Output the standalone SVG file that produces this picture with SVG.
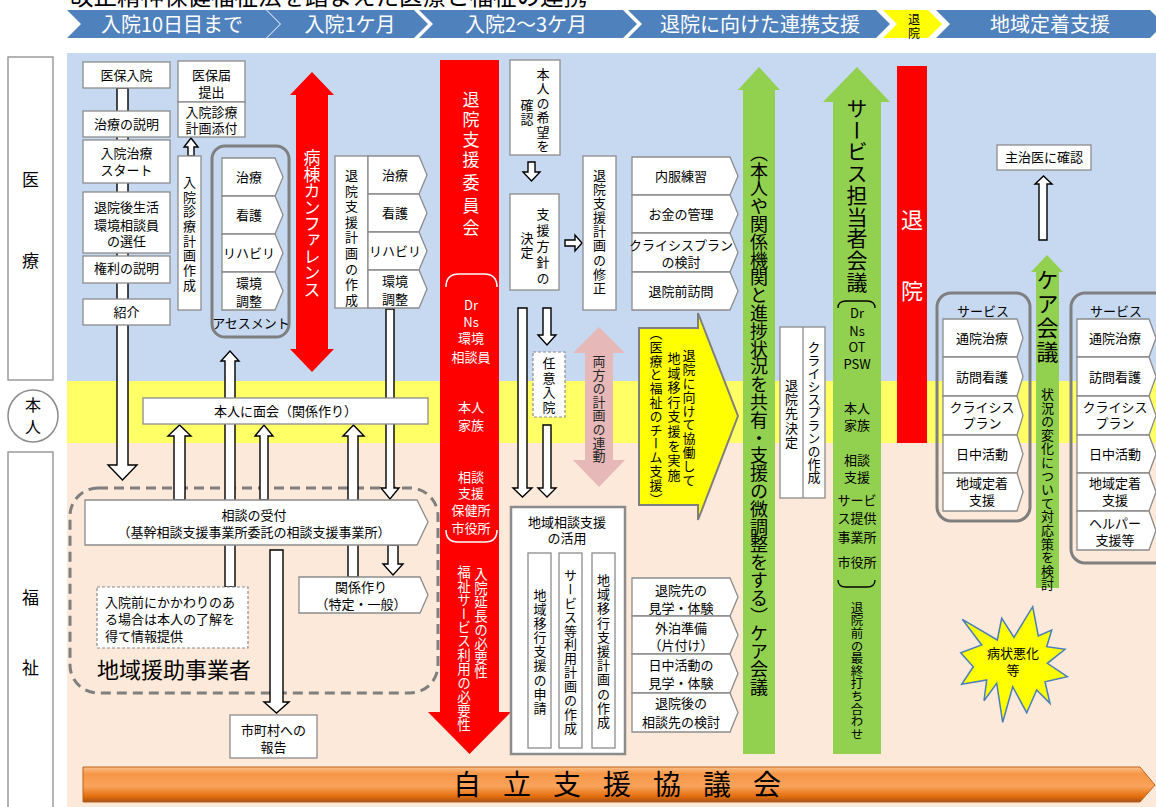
<svg xmlns="http://www.w3.org/2000/svg" width="1156" height="807" viewBox="0 0 1156 807">
<defs>
<linearGradient id="orange" x1="0" y1="0" x2="0" y2="1">
<stop offset="0" stop-color="#FBC08A"/>
<stop offset="0.2" stop-color="#F79646"/>
<stop offset="0.55" stop-color="#F9A35C"/>
<stop offset="0.85" stop-color="#E36C0A"/>
<stop offset="1" stop-color="#A0521C"/>
</linearGradient>
</defs>
<style>
text{font-family:"Noto Sans CJK JP","Noto Sans",sans-serif;fill:#000}
.c{text-anchor:middle;font-size:13px}
.v{writing-mode:vertical-rl;font-size:13px}
.box{fill:#fff;stroke:#8c8c8c;stroke-width:1.3}
.ha{fill:#fff;stroke:#000;stroke-width:1.4}
.hdr{fill:#4F81BD}
.hdrt{fill:#fff;font-size:20px;text-anchor:middle}
.wt{fill:#fff}
.cont{fill:none;stroke:#7f7f7f;stroke-width:3}
</style>

<g id="bands">
<rect x="67" y="53" width="1089" height="328" fill="#C6D9F1"/>
<rect x="67" y="381" width="1089" height="62" fill="#FFFF66"/>
<rect x="67" y="443" width="1089" height="364" fill="#FDE9D9"/>
</g>

<text x="70" y="5" font-size="23.5">改正精神保健福祉法を踏まえた医療と福祉の連携</text>

<g id="header">
<path class="hdr" d="M67 10H266L280 24L266 38H67L81 24Z"/>
<text class="hdrt" x="172" y="31.5">入院10日目まで</text>
<path class="hdr" d="M267 10H414L428 24L414 38H267L281 24Z"/>
<text class="hdrt" x="350" y="31.5">入院1ケ月</text>
<path class="hdr" d="M419 10H623L637 24L623 38H419L433 24Z"/>
<text class="hdrt" x="526" y="31.5">入院2～3ケ月</text>
<path class="hdr" d="M628 10H876L890 24L876 38H628L642 24Z"/>
<text class="hdrt" x="760" y="31.5">退院に向けた連携支援</text>
<path fill="#FFFF00" d="M883 10H928L942 24L928 38H883L897 24Z"/>
<text font-size="12" text-anchor="middle" x="914" y="23.5"><tspan x="914" y="23.5">退</tspan><tspan x="914" y="38">院</tspan></text>
<path class="hdr" d="M936 10H1150L1164 24L1150 38H936L950 24Z"/>
<text class="hdrt" x="1050" y="31.5">地域定着支援</text>
</g>

<g id="lane-iryo">
<rect x="8" y="57" width="45" height="323" class="box"/>
<text x="30.5" y="186" font-size="17" text-anchor="middle">医</text>
<text x="30.5" y="267" font-size="17" text-anchor="middle">療</text>
</g>
<g id="lane-honnin">
<ellipse cx="33" cy="416" rx="25" ry="26" fill="#fff" stroke="#8c8c8c" stroke-width="1.5"/>
<text font-size="16" text-anchor="middle" x="33" y="411"><tspan x="33" y="411">本</tspan><tspan x="33" y="433">人</tspan></text>
</g>
<g id="lane-fukushi">
<rect x="8" y="452" width="45" height="365" class="box"/>
<text x="30.5" y="604" font-size="17" text-anchor="middle">福</text>
<text x="30.5" y="674" font-size="17" text-anchor="middle">祉</text>
</g>

<g id="n-enjo">
<rect x="70" y="488" width="368" height="205" rx="28" fill="none" stroke="#7f7f7f" stroke-width="3" stroke-dasharray="10 6"/>
<text x="97" y="678" font-size="22">地域援助事業者</text>
</g>

<g id="connectors">
<path class="ha" d="M117 88H128V465H137L122.5 480L108 465H117Z"/>
<path class="ha" d="M188 156V147H184L191 138L198 147H194V156Z"/>
<path class="ha" d="M225 587V361H221L230 351L239 361H235V587Z"/>
<path class="ha" d="M386 309H394V488H399L390 499L381 488H386Z"/>
<path class="ha" d="M174 500V436H168L179.5 425L191 436H185V500Z"/>
<path class="ha" d="M260 500V436H255L264 425L273 436H268V500Z"/>
<path class="ha" d="M348 577V436H343L353.5 425L364 436H358V577Z"/>
<path class="ha" d="M388 545H398V564H403L393 575L383 564H388Z"/>
<path class="ha" d="M270 550H283V702H289L276.5 713L264 702H270Z"/>
<path class="ha" d="M528 162H535V172H540L531.5 181L523 172H528Z"/>
<path class="ha" d="M565 240H575V235L582 243L575 251V246H565Z"/>
<path class="ha" d="M518 308H527V488H532L522.5 497L513 488H518Z"/>
<path class="ha" d="M543 308H551V335H556L547 345L538 335H543Z"/>
<path class="ha" d="M543 425H551V488H556L547 497L538 488H543Z"/>
<path class="ha" d="M1039 240V184H1035L1043.5 176L1052 184H1047V240Z"/>
</g>

<g id="n-hoho-nyuin"><rect class="box" x="83" y="62" width="87" height="26"/><text class="c" x="126.5" y="80">医保入院</text></g>
<g id="n-chiryo-setsumei"><rect class="box" x="83" y="111" width="87" height="26"/><text class="c" x="126.5" y="129">治療の説明</text></g>
<g id="n-nyuin-chiryo"><rect class="box" x="83" y="140" width="87" height="43"/><text class="c" x="126.5" y="158"><tspan x="126.5" y="158">入院治療</tspan><tspan x="126.5" y="175">スタート</tspan></text></g>
<g id="n-sodanin"><rect class="box" x="83" y="192" width="87" height="61"/><text class="c" x="126.5" y="212"><tspan x="126.5" y="212">退院後生活</tspan><tspan x="126.5" y="230">環境相談員</tspan><tspan x="126.5" y="246">の選任</tspan></text></g>
<g id="n-kenri"><rect class="box" x="83" y="256" width="87" height="27"/><text class="c" x="126.5" y="273">権利の説明</text></g>
<g id="n-shokai"><rect class="box" x="83" y="299" width="87" height="26"/><text class="c" x="126.5" y="317">紹介</text></g>

<g id="n-todoke">
<rect class="box" x="178" y="61" width="67" height="41"/>
<rect class="box" x="178" y="102" width="67" height="35"/>
<text class="c" x="211.5" y="80"><tspan x="211.5" y="80">医保届</tspan><tspan x="211.5" y="97">提出</tspan><tspan x="211.5" y="117">入院診療</tspan><tspan x="211.5" y="133">計画添付</tspan></text>
</g>
<g id="n-shinryo-sakusei"><rect class="box" x="178" y="156" width="23" height="154"/><text class="v" x="189.5" y="175.5" letter-spacing="1.7">入院診療計画作成</text></g>

<g id="n-assessment">
<rect class="cont" x="212" y="146" width="77" height="191" rx="13"/>
<path class="box" d="M222 158H275L283 177L275 196H222Z"/>
<path class="box" d="M222 196H275L283 215L275 234H222Z"/>
<path class="box" d="M222 234H275L283 253L275 272H222Z"/>
<path class="box" d="M222 272H275L283 291L275 310H222Z"/>
<text class="c" x="249" y="182"><tspan x="249" y="182">治療</tspan><tspan x="249" y="220">看護</tspan><tspan x="249" y="258">リハビリ</tspan><tspan x="249" y="288">環境</tspan><tspan x="249" y="306">調整</tspan><tspan x="251" y="328">アセスメント</tspan></text>
</g>

<g id="n-conference">
<path fill="#FF0000" d="M312 72L334 95H328V349H334L312 372L290 349H296V95H290Z"/>
<text class="v wt" x="312" y="149.5" style="font-size:17px" letter-spacing="-0.6">病棟カンファレンス</text>
</g>

<g id="n-shien-keikaku">
<rect class="box" x="335" y="156" width="33" height="152"/>
<text class="v" x="351.5" y="168.5" letter-spacing="2.6">退院支援計画の作成</text>
<path class="box" d="M368 156H419L427 175L419 194H368Z"/>
<path class="box" d="M368 194H419L427 213L419 232H368Z"/>
<path class="box" d="M368 232H419L427 251L419 270H368Z"/>
<path class="box" d="M368 270H419L427 289L419 308H368Z"/>
<text class="c" x="395" y="180"><tspan x="395" y="180">治療</tspan><tspan x="395" y="218">看護</tspan><tspan x="395" y="256">リハビリ</tspan><tspan x="395" y="286">環境</tspan><tspan x="395" y="304">調整</tspan></text>
</g>

<g id="n-menkai"><rect class="box" x="143" y="398" width="285" height="26"/><text class="c" x="285.5" y="415.5">本人に面会（関係作り）</text></g>
<g id="n-uketsuke"><path class="box" d="M85 500H417L428 522L417 545H85Z"/><text class="c" x="254" y="519.5"><tspan x="254" y="519.5">相談の受付</tspan><tspan x="254" y="537">（基幹相談支援事業所委託の相談支援事業所）</tspan></text></g>
<g id="n-kankei"><path class="box" d="M299 577H420L428 595L420 613H299Z"/><text class="c" x="361" y="591.5"><tspan x="361" y="591.5">関係作り</tspan><tspan x="361" y="608.5">（特定・一般）</tspan></text></g>
<g id="n-nyuinmae"><rect x="97" y="587" width="151" height="61" fill="#fff" stroke="#8c8c8c" stroke-width="1.2" stroke-dasharray="3 2"/>
<text x="105" y="606.5" font-size="13"><tspan x="105" y="606.5">入院前にかかわりのあ</tspan><tspan x="105" y="623.5">る場合は本人の了解を</tspan><tspan x="105" y="640.5">得て情報提供</tspan></text></g>
<g id="n-shichoson"><rect class="box" x="230" y="715" width="87" height="43"/><text class="c" x="273.5" y="734.5"><tspan x="273.5" y="734.5">市町村への</tspan><tspan x="273.5" y="751.5">報告</tspan></text></g>

<g id="n-iinkai">
<path fill="#FF0000" d="M440 60H499V712H511L469.5 754L428 712H440Z"/>
<text class="v wt" x="471" y="91.5" style="font-size:17px" letter-spacing="3">退院支援</text>
<text class="v wt" x="471" y="174.5" style="font-size:17px" letter-spacing="5.5">委員会</text>
<path d="M446 287Q446 274 459 274H484Q497 274 497 287" fill="none" stroke="#fff" stroke-width="1.5"/>
<path d="M446 530Q446 542 458 542H485Q497 542 497 530" fill="none" stroke="#fff" stroke-width="1.5"/>
<text class="c wt" x="471" y="309.5"><tspan x="471" y="309.5">Dr</tspan><tspan x="471" y="326.5">Ns</tspan><tspan x="471" y="342.5">環境</tspan><tspan x="471" y="361.5">相談員</tspan><tspan x="471" y="411.5">本人</tspan><tspan x="471" y="429.5">家族</tspan><tspan x="471" y="481.5">相談</tspan><tspan x="471" y="497.5">支援</tspan><tspan x="471" y="514.5">保健所</tspan><tspan x="471" y="532.5">市役所</tspan></text>
<text class="v wt" x="481" y="567" style="font-size:13.5px" letter-spacing="0.5">入院延長の必要性</text>
<text class="v wt" x="464" y="565" style="font-size:13.5px" letter-spacing="0.4">福祉サービス利用の必要性</text>
</g>

<g id="n-kibou"><rect class="box" x="510" y="60" width="50" height="95"/>
<text class="v" x="543" y="67.5" letter-spacing="1.4">本人の希望を</text><text class="v" x="527" y="98.5" letter-spacing="1.4">確認</text></g>
<g id="n-houshin"><rect class="box" x="510" y="194" width="49" height="96"/>
<text class="v" x="543" y="207.5" letter-spacing="3">支援方針の</text><text class="v" x="527" y="231.5" letter-spacing="1">決定</text></g>
<g id="n-shusei"><rect class="box" x="583" y="156" width="33" height="154"/>
<text class="v" x="599.5" y="168.5" letter-spacing="1.1">退院支援計画の修正</text></g>

<g id="n-prep">
<path class="box" d="M632 157H730L738 176L730 195H632Z"/>
<path class="box" d="M632 195H730L738 214L730 233H632Z"/>
<path class="box" d="M632 233H730L738 252.5L730 272H632Z"/>
<path class="box" d="M632 272H730L738 291L730 310H632Z"/>
<text class="c" x="681" y="180.5"><tspan x="681" y="180.5">内服練習</tspan><tspan x="681" y="218.5">お金の管理</tspan><tspan x="681" y="249.5">クライシスプラン</tspan><tspan x="681" y="266.5">の検討</tspan><tspan x="681" y="295.5">退院前訪問</tspan></text>
</g>

<g id="n-nini"><rect x="533" y="352" width="32" height="65" fill="#fff" stroke="#8c8c8c" stroke-width="1.2" stroke-dasharray="3 2"/>
<text class="v" x="549" y="356.5" letter-spacing="1.7">任意入院</text></g>

<g id="n-rendou">
<path fill="#E6B9B8" d="M599 327L625 353H613V460H625L599 487L573 460H585V353H573Z"/>
<text class="v" x="599" y="354.5" letter-spacing="0.6" style="fill:#262626">両方の計画の連動</text>
</g>

<g id="n-yellow">
<path fill="#FFFF00" stroke="#7f7f7f" stroke-width="2" d="M639 328H698V313L738 416L698 520V505H639Z"/>
<text class="v" x="689" y="348.5" letter-spacing="0.9">退院に向けて協働して</text>
<text class="v" x="674" y="351.5" letter-spacing="1.6">地域移行支援を実施</text>
<text class="v" x="656" y="326.5" letter-spacing="0.8">（医療と福祉のチーム支援）</text>
</g>

<g id="n-chiiki-sodan">
<rect x="511" y="507" width="114" height="247" fill="#fff" stroke="#8c8c8c" stroke-width="2.5"/>
<text class="c" x="567" y="526.5"><tspan x="567" y="526.5">地域相談支援</tspan><tspan x="567" y="542.5">の活用</tspan></text>
<rect class="box" x="528" y="553" width="23" height="195"/>
<rect class="box" x="559" y="553" width="23" height="195"/>
<rect class="box" x="592" y="553" width="23" height="195"/>
<text class="v" x="540" y="588.5" letter-spacing="1.1">地域移行支援の申請</text>
<text class="v" x="570.5" y="568.5" letter-spacing="0.9">サービス等利用計画の作成</text>
<text class="v" x="603.5" y="573.5" letter-spacing="1.2">地域移行支援計画の作成</text>
</g>

<g id="n-lower-prep">
<path class="box" d="M632 578H730L738 597L730 616H632Z"/>
<path class="box" d="M632 616H730L738 635L730 654H632Z"/>
<path class="box" d="M632 654H730L738 673.5L730 693H632Z"/>
<path class="box" d="M632 693H730L738 712.5L730 732H632Z"/>
<text class="c" x="681" y="594.5"><tspan x="681" y="594.5">退院先の</tspan><tspan x="681" y="612.5">見学・体験</tspan><tspan x="681" y="632.5">外泊準備</tspan><tspan x="681" y="649.5">（片付け）</tspan><tspan x="681" y="669.5">日中活動の</tspan><tspan x="681" y="687.5">見学・体験</tspan><tspan x="681" y="707.5">退院後の</tspan><tspan x="681" y="726.5">相談先の検討</tspan></text>
</g>

<g id="n-care1">
<path fill="#92D050" d="M759 67L780 90H775V754H743V90H738Z"/>
<text class="v" x="759" y="144" style="font-size:18px" letter-spacing="-0.2">（本人や関係機関と進捗状況を共有・支援の微調整をする）ケア会議</text>
</g>

<g id="n-kettei">
<rect class="box" x="780" y="327" width="45" height="171"/>
<line x1="803" y1="327" x2="803" y2="498" stroke="#8c8c8c" stroke-width="1.3"/>
<text class="v" x="791.5" y="378.5" letter-spacing="1.2">退院先決定</text>
<text class="v" x="814" y="340.5">クライシスプランの作成</text>
</g>

<g id="n-service-meeting">
<path fill="#92D050" d="M857 67L890 102H881V754H833V102H823Z"/>
<text class="v" x="857" y="97.5" style="font-size:21px" letter-spacing="0.75">サービス担当者会議</text>
<path d="M838 308Q838 301 846 301H867Q875 301 875 308" fill="none" stroke="#000" stroke-width="1.3"/>
<text class="c" x="857" y="318"><tspan x="857" y="318">Dr</tspan><tspan x="857" y="335.5">Ns</tspan><tspan x="857" y="351.5">OT</tspan><tspan x="857" y="368.5">PSW</tspan><tspan x="857" y="412.5">本人</tspan><tspan x="857" y="429.5">家族</tspan><tspan x="857" y="464.5">相談</tspan><tspan x="857" y="481.5">支援</tspan><tspan x="857" y="504.5">サービ</tspan><tspan x="857" y="522.5">ス提供</tspan><tspan x="857" y="541.5">事業所</tspan><tspan x="857" y="566.5">市役所</tspan></text>
<path d="M838 580Q838 587 846 587H867Q875 587 875 580" fill="none" stroke="#000" stroke-width="1.3"/>
<text class="v" x="857" y="601.75" style="font-size:12.5px" letter-spacing="0.1">退院前の最終打ち合わせ</text>
</g>

<g id="n-taiin">
<rect x="897" y="66" width="30" height="377" fill="#FF0000"/>
<text class="wt" x="912" y="228" font-size="22" text-anchor="middle">退</text>
<text class="wt" x="912" y="299" font-size="22" text-anchor="middle">院</text>
</g>

<g id="n-shujii"><rect class="box" x="997" y="145" width="94" height="25"/><text class="c" x="1044" y="162">主治医に確認</text></g>

<g id="n-care2">
<path fill="#92D050" d="M1047 255L1063 272H1059V588H1036V272H1031Z"/>
<text class="v" x="1047.5" y="269" style="font-size:22px" letter-spacing="2">ケア会議</text>
<text class="v" x="1047.5" y="387.5" letter-spacing="0.6">状況の変化について対応策を検討</text>
</g>

<g id="n-service1">
<rect class="cont" x="937" y="293" width="93" height="228" rx="14"/>
<path class="box" d="M943 319H1017L1023 338L1017 357H943Z"/>
<path class="box" d="M943 357H1017L1023 376.5L1017 396H943Z"/>
<path class="box" d="M943 396H1017L1023 415.5L1017 435H943Z"/>
<path class="box" d="M943 435H1017L1023 454L1017 473H943Z"/>
<path class="box" d="M943 473H1017L1023 492L1017 511H943Z"/>
<text class="c" x="982" y="317"><tspan x="983" y="316">サービス</tspan><tspan x="982" y="342.5">通院治療</tspan><tspan x="982" y="381.5">訪問看護</tspan><tspan x="982" y="411.5">クライシス</tspan><tspan x="982" y="427.5">プラン</tspan><tspan x="982" y="458.5">日中活動</tspan><tspan x="982" y="487.5">地域定着</tspan><tspan x="982" y="504.5">支援</tspan></text>
</g>

<g id="n-service2">
<rect class="cont" x="1071" y="293" width="120" height="270" rx="14"/>
<path class="box" d="M1077 319H1149L1156 338L1149 357H1077Z"/>
<path class="box" d="M1077 357H1149L1156 376.5L1149 396H1077Z"/>
<path class="box" d="M1077 396H1149L1156 415.5L1149 435H1077Z"/>
<path class="box" d="M1077 435H1149L1156 454L1149 473H1077Z"/>
<path class="box" d="M1077 473H1149L1156 492L1149 511H1077Z"/>
<path class="box" d="M1077 511H1149L1156 530.5L1149 550H1077Z"/>
<text class="c" x="1115" y="317"><tspan x="1116" y="316">サービス</tspan><tspan x="1115" y="342.5">通院治療</tspan><tspan x="1115" y="381.5">訪問看護</tspan><tspan x="1115" y="411.5">クライシス</tspan><tspan x="1115" y="427.5">プラン</tspan><tspan x="1115" y="458.5">日中活動</tspan><tspan x="1115" y="487.5">地域定着</tspan><tspan x="1115" y="504.5">支援</tspan><tspan x="1115" y="527.5">ヘルパー</tspan><tspan x="1115" y="544.5">支援等</tspan></text>
</g>

<g id="n-starburst">
<path fill="#FFFF00" stroke="#4A7EBB" stroke-width="1.5" d="M1032.7 606.7L1038.3 636L1051.7 630L1046.7 646.7L1065 649.3L1047.3 663.3L1067.3 676.7L1045 681.7L1050 703.3L1036.7 690L1026.7 712.7L1012.7 686.7L1002.7 722.3L996.7 683.3L984 700.7L986.7 680L961.7 684.3L973.3 666.7L960.7 652.7L981.7 645L962.3 619.3L997.3 640L1001.7 618.3L1014 637.3Z"/>
<text class="c" x="1013" y="657.5"><tspan x="1013" y="657.5">病状悪化</tspan><tspan x="1013" y="674.5">等</tspan></text>
</g>

<g id="n-kyogikai">
<path fill="url(#orange)" stroke="#C0601A" stroke-width="1" d="M83 767H1140L1155 785L1140 802H83Z"/>
<text x="453" y="795" font-size="28" letter-spacing="22">自立支援協議会</text>
</g>
</svg>
